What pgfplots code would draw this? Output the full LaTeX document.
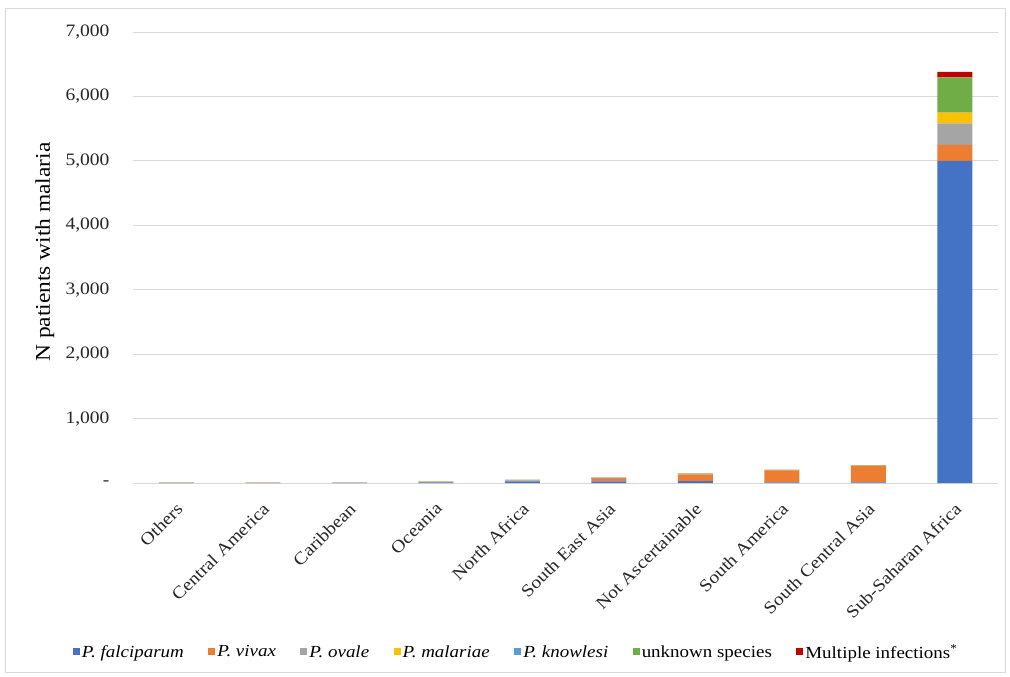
\documentclass[border=0pt]{standalone}
\usepackage{pgfplots}
\pgfplotsset{compat=1.18}
\usepackage{fontspec}
\setmainfont[FakeStretch=1.12]{Liberation Serif}
\definecolor{cfal}{HTML}{4472C4}
\definecolor{cviv}{HTML}{ED7D31}
\definecolor{cova}{HTML}{A5A5A5}
\definecolor{cmal}{HTML}{FFC000}
\definecolor{ckno}{HTML}{5B9BD5}
\definecolor{cunk}{HTML}{70AD47}
\definecolor{cmul}{HTML}{C00000}
\definecolor{gridc}{HTML}{D9D9D9}
\begin{document}
\begin{tikzpicture}[x=1bp,y=1bp]
\useasboundingbox (0,0) rectangle (1010,-677);
\draw[gridc, line width=0.8bp] (5,-8) rectangle (1005,-672);
\begin{axis}[
  at={(133bp,-483bp)}, anchor=south west,
  scale only axis, width=865bp, height=451bp,
  ybar stacked, bar width=35bp,
  xmin=-0.5, xmax=9.5, ymin=0, ymax=7000,
  xtick=data,
  xticklabels={Others,Central America,Caribbean,Oceania,North Africa,South East Asia,Not Ascertainable,South America,South Central Asia,Sub-Saharan Africa},
  ytick={0,1000,2000,3000,4000,5000,6000,7000},
  yticklabels={{-\hspace{8bp}},{1,000},{2,000},{3,000},{4,000},{5,000},{6,000},{7,000}},
  major tick length=0pt,
  axis line style={draw=none},
  ymajorgrids, grid style={gridc, line width=1bp},
  tick label style={font=\fontsize{17.5}{20}\selectfont, text=black!85},
  yticklabel style={xshift=-20bp},
  xticklabel style={xshift=-1bp, yshift=-17bp, rotate=45, anchor=north east, inner sep=1bp},
  ylabel={N patients with malaria},
  ylabel style={font=\fontsize{21}{24}\selectfont, at={(axis description cs:-0.102,0.512)}, anchor=center},
  every axis plot/.append style={draw=none},
  legend columns=7,
  legend style={draw=none, fill=none, at={(axis description cs:0.443,-0.375)}, anchor=center,
    font=\fontsize{17}{20}\selectfont, /tikz/every even column/.append style={column sep=22.5bp},
    inner sep=0pt},
  legend image code/.code={\fill[#1] (0bp,-3bp) rectangle (7bp,4bp);},
]
\addplot[fill=cfal] coordinates {(0,2) (1,3) (2,3) (3,8) (4,25) (5,25) (6,30) (7,10) (8,10) (9,5000)};
\addplot[fill=cviv] coordinates {(0,1) (1,2) (2,1) (3,8) (4,8) (5,45) (6,100) (7,185) (8,255) (9,250)};
\addplot[fill=cova] coordinates {(0,1) (1,0) (2,1) (3,2) (4,8) (5,5) (6,15) (7,3) (8,5) (9,330)};
\addplot[fill=cmal] coordinates {(0,0) (1,0) (2,0) (3,1) (4,3) (5,2) (6,3) (7,2) (8,2) (9,170)};
\addplot[fill=ckno] coordinates {(0,0) (1,0) (2,0) (3,0) (4,0) (5,5) (6,0) (7,0) (8,0) (9,0)};
\addplot[fill=cunk] coordinates {(0,1) (1,1) (2,1) (3,2) (4,3) (5,5) (6,5) (7,3) (8,5) (9,545)};
\addplot[fill=cmul] coordinates {(0,0) (1,0) (2,0) (3,0) (4,1) (5,1) (6,1) (7,1) (8,1) (9,85)};
\legend{\textit{P. falciparum},\textit{P. vivax},\textit{P. ovale},\textit{P. malariae},\textit{P. knowlesi},unknown species,Multiple infections\textsuperscript{*}}
\end{axis}
\end{tikzpicture}
\end{document}
